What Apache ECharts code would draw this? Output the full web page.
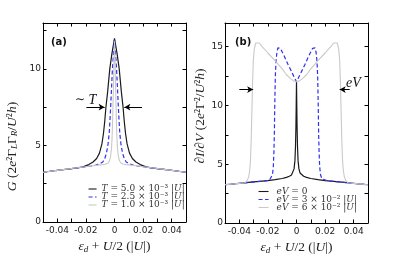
<!DOCTYPE html>
<html>
<head>
<meta charset="utf-8">
<script src="https://cdn.jsdelivr.net/npm/echarts@6/dist/echarts.min.js"></script>
<style>html,body{margin:0;padding:0;background:#fff}#c{width:395px;height:266px}</style>
</head>
<body>
<div id="c"></div>
<script>
// ---------- data: panel (a) ----------
const xA_T50 = [-0.05,-0.04,-0.03,-0.025,-0.022,-0.018,-0.015,-0.0125,-0.0105,-0.0088,-0.0077,-0.0068,-0.006,-0.0048,-0.0033,-0.0018,0,0.0018,0.0033,0.0048,0.006,0.0068,0.0077,0.0088,0.0105,0.0125,0.015,0.018,0.022,0.025,0.03,0.04,0.05];
const gA_T50 = [3.25,3.37,3.49,3.55,3.6,3.75,3.92,4.15,4.5,5.1,5.8,6.6,7.5,8.5,10.0,11.0,12.0,11.0,10.0,8.5,7.5,6.6,5.8,5.1,4.5,4.15,3.92,3.75,3.6,3.55,3.49,3.37,3.25];
const xA_T25 = [-0.05,-0.04,-0.03,-0.02,-0.016,-0.013,-0.01,-0.0082,-0.0068,-0.0056,-0.0045,-0.0037,-0.0032,-0.0027,-0.0022,-0.0015,-0.0008,0,0.0008,0.0015,0.0022,0.0027,0.0032,0.0037,0.0045,0.0056,0.0068,0.0082,0.01,0.013,0.016,0.02,0.03,0.04,0.05];
const gA_T25 = [3.25,3.37,3.49,3.61,3.66,3.72,3.82,3.92,4.15,4.5,5.1,5.8,6.6,7.5,8.5,9.9,10.9,11.9,10.9,9.9,8.5,7.5,6.6,5.8,5.1,4.5,4.15,3.92,3.82,3.72,3.66,3.61,3.49,3.37,3.25];
const xA_T10 = [-0.05,-0.04,-0.03,-0.02,-0.015,-0.01,-0.008,-0.006,-0.0045,-0.0035,-0.0027,-0.0021,-0.0017,-0.0014,-0.0011,-0.0007,-0.0004,0,0.0004,0.0007,0.0011,0.0014,0.0017,0.0021,0.0027,0.0035,0.0045,0.006,0.008,0.01,0.015,0.02,0.03,0.04,0.05];
const gA_T10 = [3.25,3.37,3.49,3.61,3.67,3.73,3.75,3.79,3.85,4.0,4.3,4.8,5.5,6.3,7.5,9.0,10.5,11.8,10.5,9.0,7.5,6.3,5.5,4.8,4.3,4.0,3.85,3.79,3.75,3.73,3.67,3.61,3.49,3.37,3.25];

// ---------- data: panel (b) ----------
const xB_V0 = [-0.05,-0.04,-0.03,-0.02,-0.015,-0.01,-0.007,-0.005,-0.0035,-0.0025,-0.0017,-0.0011,-0.0007,-0.0004,-0.0002,0,0.0002,0.0004,0.0007,0.0011,0.0017,0.0025,0.0035,0.005,0.007,0.01,0.015,0.02,0.03,0.04,0.05];
const gB_V0 = [3.25,3.37,3.49,3.61,3.68,3.78,3.88,3.97,4.08,4.25,4.6,5.3,6.5,8.2,10.0,12.0,10.0,8.2,6.5,5.3,4.6,4.25,4.08,3.97,3.88,3.78,3.68,3.61,3.49,3.37,3.25];
const xB_V3 = [-0.05,-0.04,-0.03,-0.022,-0.019,-0.0178,-0.0168,-0.0162,-0.0158,-0.0155,-0.0152,-0.0148,-0.0143,-0.0137,-0.013,-0.0122,-0.0113,-0.009,-0.006,-0.003,-0.001,0,0.001,0.003,0.006,0.009,0.0113,0.0122,0.013,0.0137,0.0143,0.0148,0.0152,0.0155,0.0158,0.0162,0.0168,0.0178,0.019,0.022,0.03,0.04,0.05];
const gB_V3 = [3.25,3.37,3.49,3.58,3.63,3.75,4.1,4.8,6.0,7.5,10.0,12.5,13.8,14.5,14.88,15.0,14.85,14.3,13.5,12.75,12.25,12.0,12.25,12.75,13.5,14.3,14.85,15.0,14.88,14.5,13.8,12.5,10.0,7.5,6.0,4.8,4.1,3.75,3.63,3.58,3.49,3.37,3.25];
const xB_V6 = [-0.05,-0.04,-0.036,-0.0345,-0.0335,-0.0328,-0.0322,-0.0317,-0.0312,-0.0307,-0.0302,-0.0295,-0.0285,-0.0272,-0.026,-0.024,-0.02,-0.015,-0.01,-0.007,-0.004,-0.002,0,0.002,0.004,0.007,0.01,0.015,0.02,0.024,0.026,0.0272,0.0285,0.0295,0.0302,0.0307,0.0312,0.0317,0.0322,0.0328,0.0335,0.0345,0.036,0.04,0.05];
const gB_V6 = [3.25,3.37,3.42,3.6,3.9,4.4,5.3,7.0,9.5,12.0,13.8,14.8,15.3,15.4,15.3,15.0,14.45,13.8,13.1,12.6,12.25,12.08,12.0,12.08,12.25,12.6,13.1,13.8,14.45,15.0,15.3,15.4,15.3,14.8,13.8,12.0,9.5,7.0,5.3,4.4,3.9,3.6,3.42,3.37,3.25];

// series names (legend labels)
const namesA = ['T = 5.0 × 10⁻³ |U|', 'T = 2.5 × 10⁻³ |U|', 'T = 1.0 × 10⁻³ |U|'];
const richNamesA = ['{i|T} = 5.0 × 10⁻³ |{i|U}|', '{i|T} = 2.5 × 10⁻³ |{i|U}|', '{i|T} = 1.0 × 10⁻³ |{i|U}|'];
const namesB = ['eV = 0', 'eV = 3 × 10⁻² |U|', 'eV = 6 × 10⁻² |U|'];
const richNamesB = ['{i|eV} = 0', '{i|eV} = 3 × 10⁻² |{i|U}|', '{i|eV} = 6 × 10⁻² |{i|U}|'];

// axis ranges / ticks
const xRange = [-0.05, 0.05];
const xStep = 0.01;
const yMaxA = 13, yMaxB = 17, yStep = 2.5;

// annotation arrows: [xFrom, xTo, y]
const arrowsA = [[-0.0197, -0.0069, 7.5], [0.0192, 0.0069, 7.5]];
const arrowsB = [[-0.040, -0.0303, 11.34], [0.0372, 0.0302, 11.34]];

function zip(xs, ys) { return xs.map((x, i) => [x, ys[i]]); }

const BLACK = '#1a1a1a', BLUE = '#2f2ff0', GRAY = '#c9c9c9';

const xFmt = v => { const k = Math.round(v * 100); if (k % 2 !== 0) return ''; if (k === 0) return '0'; return (k / 100).toFixed(2); };
const yFmt = v => (Math.abs(v % 5) < 1e-9 ? String(v) : '');

const serifRich = {
  i: { fontStyle: 'italic', fontFamily: 'Liberation Serif', fontSize: 13.5 },
  s: { fontStyle: 'italic', fontFamily: 'Liberation Serif', fontSize: 9, verticalAlign: 'bottom', lineHeight: 9 }
};
const nameStyle = (extra) => Object.assign({ fontFamily: 'Liberation Serif', fontSize: 13.5, color: '#222', rich: serifRich }, extra || {});

function xAxisPair(grid) {
  const base = {
    type: 'value', gridIndex: grid, min: xRange[0], max: xRange[1], interval: xStep,
    axisLine: { show: true, onZero: false, lineStyle: { color: '#000', width: 1 } },
    axisTick: { show: true, inside: true, length: 3.5, lineStyle: { color: '#000', width: 1 } },
    splitLine: { show: false }
  };
  return [
    Object.assign({}, base, {
      position: 'bottom',
      axisLabel: { show: true, formatter: xFmt, margin: 4, fontFamily: 'DejaVu Sans', fontSize: 9, color: '#222' },
      name: '{i|ε}{s|d} + {i|U}/2 (|{i|U}|)', nameLocation: 'middle', nameGap: 10,
      nameTextStyle: nameStyle()
    }),
    Object.assign({}, base, { position: 'top', axisLabel: { show: false } })
  ];
}
function yAxisPair(grid, max, name, nameGap, pad) {
  const base = {
    type: 'value', gridIndex: grid, min: 0, max: max, interval: yStep,
    axisLine: { show: true, onZero: false, lineStyle: { color: '#000', width: 1 } },
    axisTick: { show: true, inside: true, length: 3.5, lineStyle: { color: '#000', width: 1 } },
    splitLine: { show: false }
  };
  return [
    Object.assign({}, base, {
      position: 'left',
      axisLabel: { show: true, formatter: yFmt, margin: 2, fontFamily: 'DejaVu Sans', fontSize: 9, color: '#222' },
      name: name, nameLocation: 'middle', nameGap: nameGap, nameRotate: 90,
      nameTextStyle: nameStyle({ padding: pad })
    }),
    Object.assign({}, base, { position: 'right', axisLabel: { show: false } })
  ];
}

function arrowMark(arrows) {
  return {
    silent: true, symbol: ['none', 'arrow'], symbolSize: [5, 6], animation: false,
    label: { show: false },
    lineStyle: { color: '#000', width: 1, type: 'solid' },
    emphasis: { disabled: true },
    data: arrows.map(a => [{ coord: [a[0], a[2]] }, { coord: [a[1], a[2]] }])
  };
}

function line(name, xi, yi, data, color, width, dash, extra) {
  return Object.assign({
    type: 'line', name: name, xAxisIndex: xi, yAxisIndex: yi, data: data,
    showSymbol: false, symbol: 'none', animation: false, clip: true,
    lineStyle: { color: color, width: width, type: dash || 'solid' },
    itemStyle: { color: color },
    emphasis: { disabled: true }
  }, extra || {});
}

const legendText = () => ({
  fontFamily: 'DejaVu Serif', fontSize: 9, color: '#333', lineHeight: 7.6,
  rich: { i: { fontStyle: 'italic', fontFamily: 'DejaVu Serif', fontSize: 9, lineHeight: 7.6 } }
});

const chart = echarts.init(document.getElementById('c'), null, { renderer: 'canvas' });
chart.setOption({
  animation: false,
  backgroundColor: '#fff',
  grid: [
    { left: 43, top: 23, width: 143, height: 199 },
    { left: 225, top: 23, width: 143, height: 200 }
  ],
  xAxis: [].concat(xAxisPair(0), xAxisPair(1)),
  yAxis: [].concat(
    yAxisPair(0, yMaxA, '{i|G} (2{i|e}²Γ{s|L}Γ{s|R}/{i|U}²{i|h})', 24, [0, 48, 0, 0]),
    yAxisPair(1, yMaxB, '∂{i|I}/∂{i|V} (2{i|e}²Γ²/{i|U}²{i|h})', 15, [0, 0, 0, 14])
  ),
  legend: [
    {
      data: namesA, orient: 'vertical', left: 88, top: 184.5, padding: 0, itemWidth: 8, itemHeight: 1, itemGap: -1,
      itemStyle: { opacity: 0, borderWidth: 0 }, lineStyle: { width: 1.1 },
      selectedMode: false, formatter: n => richNamesA[namesA.indexOf(n)], textStyle: legendText()
    },
    {
      data: namesB, orient: 'vertical', left: 258, top: 187, padding: 0, itemWidth: 10, itemHeight: 1, itemGap: -1,
      itemStyle: { opacity: 0, borderWidth: 0 }, lineStyle: { width: 1.1 },
      selectedMode: false, formatter: n => richNamesB[namesB.indexOf(n)],
      textStyle: Object.assign(legendText(), { padding: [0, 0, 0, 3] })
    }
  ],
  series: [
    line(namesA[0], 0, 0, zip(xA_T50, gA_T50), BLACK, 1.2, 'solid', { markLine: arrowMark(arrowsA) }),
    line(namesA[1], 0, 0, zip(xA_T25, gA_T25), BLUE, 1.2, [4, 2.5]),
    line(namesA[2], 0, 0, zip(xA_T10, gA_T10), GRAY, 1.1),
    line(namesB[0], 2, 2, zip(xB_V0, gB_V0), BLACK, 1.2, 'solid', { markLine: arrowMark(arrowsB) }),
    line(namesB[1], 2, 2, zip(xB_V3, gB_V3), BLUE, 1.2, [4, 2.5]),
    line(namesB[2], 2, 2, zip(xB_V6, gB_V6), GRAY, 1.1)
  ],
  graphic: [
    { type: 'text', left: 51, top: 37, style: { text: '(a)', font: 'bold 10px "DejaVu Sans"', fill: '#111' } },
    { type: 'text', left: 235, top: 37, style: { text: '(b)', font: 'bold 10px "DejaVu Sans"', fill: '#111' } },
    { type: 'text', left: 75, top: 93, style: { text: '{n|∼}{i| T}', rich: { n: { fontFamily: 'DejaVu Serif', fontSize: 12, fill: '#111' }, i: { fontFamily: 'Liberation Serif', fontStyle: 'italic', fontSize: 14, fill: '#111' } } } },
    { type: 'text', left: 346, top: 76, style: { text: '{i|eV}', rich: { i: { fontFamily: 'Liberation Serif', fontStyle: 'italic', fontSize: 14, fill: '#111' } } } }
  ]
});
</script>
</body>
</html>
